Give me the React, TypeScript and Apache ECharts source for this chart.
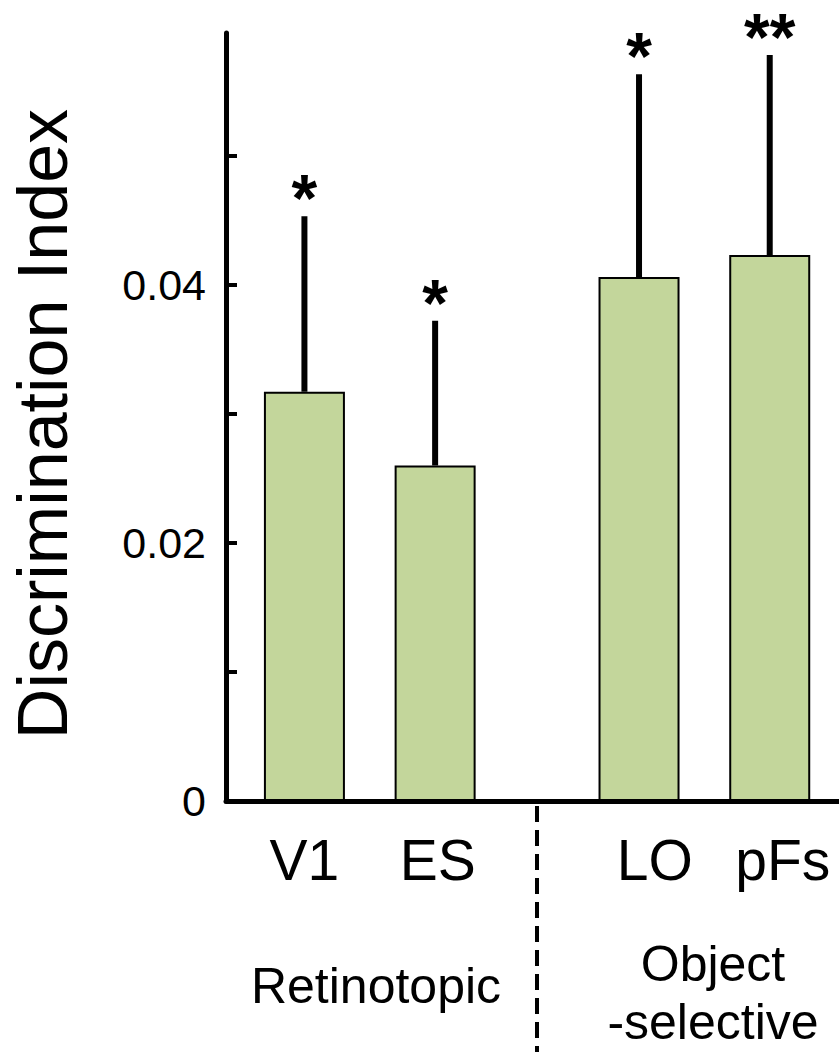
import React, { useEffect, useRef } from "react";
import * as echarts from "echarts";

// ---- data ----
const categories = ["V1", "ES", "LO", "pFs"];
const barPositions = [1, 2, 3.56, 4.56];
const labelPositions = [1, 2.02, 3.68, 4.66];
const means = [0.0317, 0.026, 0.0406, 0.0423];
const upperErrors = [0.0453, 0.0372, 0.0563, 0.0578];
const significance = ["*", "*", "*", "**"];
const yTickValues = [0.01, 0.02, 0.03, 0.04, 0.05];
const yLabelValues = [0, 0.02, 0.04];
const groupNames = ["Retinotopic", "Object\n-selective"];

const FONT = "'Liberation Sans', Arial, Helvetica, sans-serif";

export default function App() {
  const ref = useRef<HTMLDivElement>(null);
  useEffect(() => {
    document.body.style.margin = "0";
    const chart = echarts.init(ref.current!, null, { renderer: "svg" });
    const option: any = {
      animation: false,
      backgroundColor: "#ffffff",
      grid: { left: 225, right: 0, top: 33, bottom: 251, containLabel: false },
      xAxis: {
        type: "value",
        min: 0.4,
        max: 5.09,
        splitLine: { show: false },
        axisTick: { show: false },
        axisLine: { show: true, onZero: false, lineStyle: { color: "#000", width: 5 } },
        axisLabel: {
          customValues: labelPositions,
          margin: 30,
          fontSize: 57,
          fontFamily: FONT,
          color: "#000",
          formatter: (v: number) => {
            let best = 0;
            labelPositions.forEach((p, i) => {
              if (Math.abs(p - v) < Math.abs(labelPositions[best] - v)) best = i;
            });
            return categories[best];
          },
        },
      },
      yAxis: {
        type: "value",
        min: 0,
        max: 0.0595,
        name: "Discrimination Index",
        nameLocation: "middle",
        nameGap: 148,
        nameTextStyle: { fontSize: 70, fontFamily: FONT, color: "#000", padding: [0, 14, 0, 0] },
        splitLine: { show: false },
        axisLine: { show: true, lineStyle: { color: "#000", width: 5 } },
        axisTick: {
          show: true,
          inside: true,
          length: 11,
          customValues: yTickValues,
          lineStyle: { color: "#000", width: 4 },
        },
        axisLabel: {
          customValues: yLabelValues,
          margin: 20,
          fontSize: 43,
          fontFamily: FONT,
          color: "#000",
          formatter: (v: number) => (v === 0 ? "0" : v.toFixed(2)),
        },
      },
      series: [
        {
          type: "bar",
          barWidth: 81,
          data: barPositions.map((x, i) => [x, means[i]]),
          itemStyle: { color: "#c3d69b", borderColor: "#000", borderWidth: 2 },
          z: 2,
        },
        {
          type: "custom",
          z: 3,
          data: barPositions.map((x, i) => [x, means[i], upperErrors[i], i]),
          renderItem: (params: any, api: any) => {
            const x = api.value(0);
            const m = api.value(1);
            const u = api.value(2);
            const idx = api.value(3);
            const p0 = api.coord([x, m]);
            const p1 = api.coord([x, u]);
            return {
              type: "group",
              children: [
                {
                  type: "line",
                  shape: { x1: p0[0], y1: p0[1], x2: p1[0], y2: p1[1] },
                  style: { stroke: "#000", lineWidth: 6 },
                },
                {
                  type: "text",
                  x: p1[0],
                  y: p1[1] - 18,
                  style: {
                    text: significance[idx],
                    fontSize: 66,
                    fontWeight: "bold",
                    fontFamily: FONT,
                    fill: "#000",
                    align: "center",
                    verticalAlign: "middle",
                  },
                },
              ],
            };
          },
        },
      ],
      graphic: [
        {
          type: "line",
          shape: { x1: 537, y1: 806, x2: 537, y2: 1052 },
          style: { stroke: "#000", lineWidth: 4, lineDash: [16, 8] },
        },
        {
          type: "text",
          x: 376,
          y: 986,
          style: {
            text: groupNames[0],
            fontSize: 50,
            fontFamily: FONT,
            fill: "#000",
            align: "center",
            verticalAlign: "middle",
          },
        },
        {
          type: "text",
          x: 713,
          y: 993,
          style: {
            text: groupNames[1],
            fontSize: 50,
            lineHeight: 58,
            fontFamily: FONT,
            fill: "#000",
            align: "center",
            verticalAlign: "middle",
          },
        },
      ],
    };
    chart.setOption(option);
    return () => chart.dispose();
  }, []);
  return <div ref={ref} style={{ width: 839, height: 1052 }} />;
}
